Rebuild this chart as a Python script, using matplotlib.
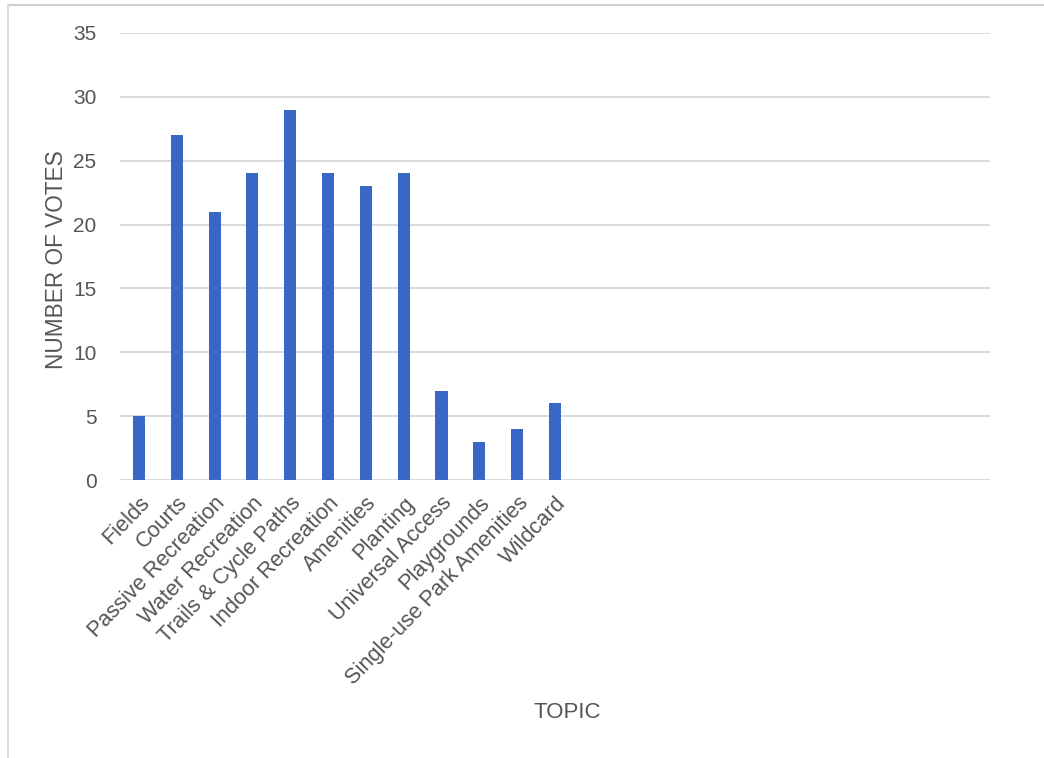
import matplotlib
matplotlib.use("Agg")
import matplotlib.pyplot as plt
from matplotlib.lines import Line2D

plt.rcParams['font.family'] = ['Liberation Sans', 'DejaVu Sans']

categories = ["Fields", "Courts", "Passive Recreation", "Water Recreation",
              "Trails & Cycle Paths", "Indoor Recreation", "Amenities", "Planting",
              "Universal Access", "Playgrounds", "Single-use Park Amenities", "Wildcard"]
votes = [5, 27, 21, 24, 29, 24, 23, 24, 7, 3, 4, 6]
y_ticks = [0, 5, 10, 15, 20, 25, 30, 35]
n_slots = 23  # category axis has empty slots to the right

fig = plt.figure(figsize=(10.44, 7.58), dpi=100)
ax = fig.add_axes([120/1044, 1-480/758, 870/1044, 447/758])

x = list(range(len(categories)))
ax.bar(x, votes, width=0.32, color='#3a67c6', zorder=3)

ax.set_xlim(-0.5, n_slots - 0.5)
ax.set_ylim(0, 35)
ax.set_yticks(y_ticks)
ax.set_yticklabels([str(t) for t in y_ticks], fontsize=15, color='#555555')
ax.set_xticks(x)
ax.set_xticklabels(categories, rotation=46, ha='right', rotation_mode='anchor',
                   fontsize=15.7, color='#555555')
ax.tick_params(axis='both', length=0)
ax.tick_params(axis='y', pad=17)
ax.tick_params(axis='x', pad=9)
ax.grid(axis='y', color='#d9d9d9', linewidth=1.4, zorder=0)
for s in ax.spines.values():
    s.set_visible(False)

fig.text(57/1044, 1-260/758, "NUMBER OF VOTES", rotation=90, ha='center', va='center',
         fontsize=16.3, color='#555555')
fig.text(567/1044, 1-712/758, "TOPIC", ha='center', va='center',
         fontsize=16, color='#555555')

# light frame
fig.add_artist(Line2D([8/1044, 1], [1-5/758, 1-5/758], color='#cfcfcf', linewidth=1.5))
fig.add_artist(Line2D([8/1044, 8/1044], [0, 1-5/758], color='#dcdcdc', linewidth=1.5))

fig.savefig("out.png", dpi=100, facecolor='white')
